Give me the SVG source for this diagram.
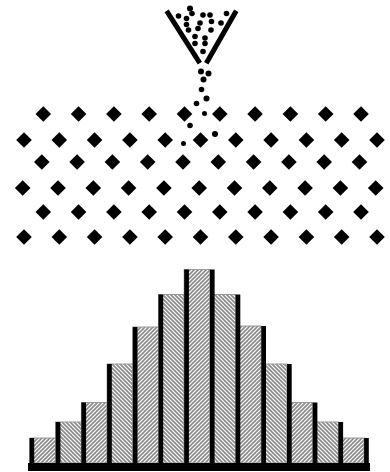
<svg xmlns="http://www.w3.org/2000/svg" width="390" height="472" viewBox="0 0 390 472">
<style>
.ball{fill:#000}
.bar{stroke:#999;stroke-width:1}
.div{fill:#000}
.funnel{stroke:#000;stroke-width:5;fill:none;stroke-linecap:square}
</style>
<defs>
<path id="peg" d="M0,-7.8 L7.8,0 L0,7.8 L-7.8,0Z" fill="#000"/>
<pattern id="hf" patternUnits="userSpaceOnUse" width="4" height="4">
<rect width="4" height="4" fill="#fff"/>
<path d="M-1,1 L1,-1 M0,4 L4,0 M3,5 L5,3" stroke="#888" stroke-width="1.6"/>
</pattern>
<pattern id="hb" patternUnits="userSpaceOnUse" width="4" height="4">
<rect width="4" height="4" fill="#fff"/>
<path d="M-1,3 L1,5 M0,0 L4,4 M3,-1 L5,1" stroke="#888" stroke-width="1.6"/>
</pattern>
</defs>
<rect width="390" height="472" fill="#fff"/>

<g id="funnel">
<path class="funnel" d="M168,13 L198.5,61"/>
<path class="funnel" d="M235,13 L207.5,61"/>
</g>

<g id="balls">
<circle class="ball" cx="190" cy="8.5" r="3"/>
<circle class="ball" cx="192" cy="13.5" r="2.8"/>
<circle class="ball" cx="178.5" cy="16" r="2.8"/>
<circle class="ball" cx="186.5" cy="18.5" r="2.8"/>
<circle class="ball" cx="203" cy="15" r="2.8"/>
<circle class="ball" cx="210" cy="15" r="2.8"/>
<circle class="ball" cx="226.5" cy="13.5" r="2.8"/>
<circle class="ball" cx="186.5" cy="24.5" r="2.8"/>
<circle class="ball" cx="200" cy="23" r="2.8"/>
<circle class="ball" cx="211.5" cy="21.5" r="2.8"/>
<circle class="ball" cx="221" cy="23" r="2.8"/>
<circle class="ball" cx="188.5" cy="30" r="2.8"/>
<circle class="ball" cx="198" cy="28.5" r="2.8"/>
<circle class="ball" cx="211" cy="30" r="2.8"/>
<circle class="ball" cx="195" cy="36.5" r="2.8"/>
<circle class="ball" cx="205" cy="38" r="2.8"/>
<circle class="ball" cx="195" cy="43.5" r="2.8"/>
<circle class="ball" cx="205" cy="43.5" r="2.8"/>
<circle class="ball" cx="203" cy="51.5" r="2.8"/>
<circle class="ball" cx="201" cy="71.5" r="3"/>
<circle class="ball" cx="208.5" cy="73.5" r="3"/>
<circle class="ball" cx="203.5" cy="79.5" r="3"/>
<circle class="ball" cx="201.5" cy="89.5" r="2.8"/>
<circle class="ball" cx="206.5" cy="98.5" r="3"/>
<circle class="ball" cx="196.5" cy="103.5" r="2.8"/>
<circle class="ball" cx="204.5" cy="113.5" r="2.5"/>
<circle class="ball" cx="190" cy="125.5" r="2.8"/>
<circle class="ball" cx="215" cy="134" r="3"/>
<circle class="ball" cx="183.5" cy="143.5" r="2.5"/>
</g>

<g id="pegs">
<use href="#peg" x="43.3" y="114"/><use href="#peg" x="78.6" y="114"/><use href="#peg" x="113.9" y="114"/><use href="#peg" x="149.2" y="114"/><use href="#peg" x="184.5" y="114"/><use href="#peg" x="219.8" y="114"/><use href="#peg" x="255.1" y="114"/><use href="#peg" x="290.4" y="114"/><use href="#peg" x="325.7" y="114"/><use href="#peg" x="361" y="114"/>
<use href="#peg" x="24" y="140"/><use href="#peg" x="59.3" y="140"/><use href="#peg" x="94.6" y="140"/><use href="#peg" x="129.9" y="140"/><use href="#peg" x="165.2" y="140"/><use href="#peg" x="200.5" y="140"/><use href="#peg" x="235.8" y="140"/><use href="#peg" x="271.1" y="140"/><use href="#peg" x="306.4" y="140"/><use href="#peg" x="341.7" y="140"/><use href="#peg" x="377" y="140"/>
<use href="#peg" x="41.8" y="162"/><use href="#peg" x="77.1" y="162"/><use href="#peg" x="112.4" y="162"/><use href="#peg" x="147.7" y="162"/><use href="#peg" x="183" y="162"/><use href="#peg" x="218.3" y="162"/><use href="#peg" x="253.6" y="162"/><use href="#peg" x="288.9" y="162"/><use href="#peg" x="324.2" y="162"/><use href="#peg" x="359.5" y="162"/>
<use href="#peg" x="22.7" y="188"/><use href="#peg" x="58" y="188"/><use href="#peg" x="93.3" y="188"/><use href="#peg" x="128.6" y="188"/><use href="#peg" x="163.9" y="188"/><use href="#peg" x="199.2" y="188"/><use href="#peg" x="234.5" y="188"/><use href="#peg" x="269.8" y="188"/><use href="#peg" x="305.1" y="188"/><use href="#peg" x="340.4" y="188"/><use href="#peg" x="375.7" y="188"/>
<use href="#peg" x="43.3" y="212"/><use href="#peg" x="78.6" y="212"/><use href="#peg" x="113.9" y="212"/><use href="#peg" x="149.2" y="212"/><use href="#peg" x="184.5" y="212"/><use href="#peg" x="219.8" y="212"/><use href="#peg" x="255.1" y="212"/><use href="#peg" x="290.4" y="212"/><use href="#peg" x="325.7" y="212"/><use href="#peg" x="361" y="212"/>
<use href="#peg" x="24" y="237"/><use href="#peg" x="59.3" y="237"/><use href="#peg" x="94.6" y="237"/><use href="#peg" x="129.9" y="237"/><use href="#peg" x="165.2" y="237"/><use href="#peg" x="200.5" y="237"/><use href="#peg" x="235.8" y="237"/><use href="#peg" x="271.1" y="237"/><use href="#peg" x="306.4" y="237"/><use href="#peg" x="341.7" y="237"/><use href="#peg" x="377" y="237"/>
</g>

<g id="histogram">
<rect class="bar" x="30" y="438" width="25.7" height="25" fill="url(#hf)"/>
<rect class="bar" x="55.7" y="422" width="25.7" height="41" fill="url(#hb)"/>
<rect class="bar" x="81.4" y="402.5" width="25.7" height="60.5" fill="url(#hf)"/>
<rect class="bar" x="107.1" y="364" width="25.7" height="99" fill="url(#hb)"/>
<rect class="bar" x="132.8" y="327" width="25.7" height="136" fill="url(#hf)"/>
<rect class="bar" x="158.5" y="294.5" width="25.7" height="168.5" fill="url(#hb)"/>
<rect class="bar" x="184.2" y="269.5" width="25.7" height="193.5" fill="url(#hf)"/>
<rect class="bar" x="209.9" y="294.5" width="25.7" height="168.5" fill="url(#hb)"/>
<rect class="bar" x="235.6" y="326" width="25.7" height="137" fill="url(#hf)"/>
<rect class="bar" x="261.3" y="364" width="25.7" height="99" fill="url(#hb)"/>
<rect class="bar" x="287" y="402.5" width="25.7" height="60.5" fill="url(#hf)"/>
<rect class="bar" x="312.7" y="422" width="25.7" height="41" fill="url(#hb)"/>
<rect class="bar" x="338.4" y="438" width="25.7" height="25" fill="url(#hf)"/>
<rect class="div" x="29.5" y="438" width="4.7" height="30"/>
<rect class="div" x="55.7" y="422" width="4.7" height="46"/>
<rect class="div" x="81.4" y="402.5" width="4.7" height="65"/>
<rect class="div" x="107.1" y="364" width="4.7" height="104"/>
<rect class="div" x="132.8" y="327" width="4.7" height="141"/>
<rect class="div" x="158.5" y="294.5" width="4.7" height="173"/>
<rect class="div" x="184.2" y="269.5" width="4.7" height="198"/>
<rect class="div" x="209.9" y="269.5" width="4.7" height="198"/>
<rect class="div" x="235.6" y="294.5" width="4.7" height="173"/>
<rect class="div" x="261.3" y="326" width="4.7" height="142"/>
<rect class="div" x="287" y="364" width="4.7" height="104"/>
<rect class="div" x="312.7" y="402.5" width="4.7" height="65"/>
<rect class="div" x="338.4" y="422" width="4.7" height="46"/>
<rect class="div" x="364.1" y="438" width="4.7" height="30"/>
<rect class="div" x="28" y="463" width="342" height="8"/>
</g>
</svg>
